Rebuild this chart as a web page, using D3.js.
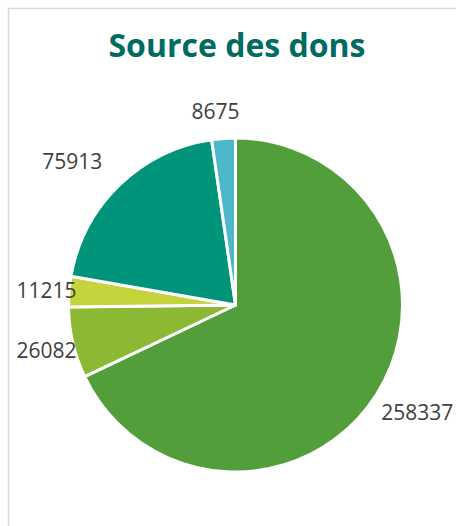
<!DOCTYPE html>
<html>
<head>
<meta charset="utf-8">
<script src="https://cdn.jsdelivr.net/npm/d3@7"></script>
<style>
  html, body { margin: 0; padding: 0; background: #ffffff; }
  svg { display: block; }
</style>
</head>
<body>
<svg id="chart" width="456" height="526"></svg>
<script>
// ---- data ----
const title = "Source des dons";
const categories = ["A", "B", "C", "D", "E"];
const values = [258337, 26082, 11215, 75913, 8675];
const colors = ["#529E3A", "#8CB834", "#C5D33D", "#00957A", "#4CB8C9"];

// ---- layout ----
const W = 456, H = 526;
const cx = 235.5, cy = 305, R = 167;
const labelFactor = [1.266, 1.164, 1.135, 1.302, 1.165];
const labelAngleShift = [-1.6, -0.4, -0.2, -4.5, -1.8]; // degrees

const svg = d3.select("#chart");

// chart frame
svg.append("rect")
  .attr("x", 8.5).attr("y", 8.5)
  .attr("width", W + 20).attr("height", H + 20)
  .attr("fill", "#ffffff")
  .attr("stroke", "#D9D9D9")
  .attr("stroke-width", 1.5);

// title
svg.append("text")
  .attr("x", 237).attr("y", 57)
  .attr("text-anchor", "middle")
  .attr("font-family", "'Open Sans', sans-serif")
  .attr("font-weight", 700)
  .attr("font-size", 32)
  .attr("fill", "#006B5F")
  .text(title);

const pie = d3.pie().sort(null).value(d => d.v).startAngle(0).endAngle(2 * Math.PI);
const data = categories.map((c, i) => ({ c, v: values[i], i }));
const arcs = pie(data);

const arc = d3.arc().innerRadius(0).outerRadius(R);

const g = svg.append("g").attr("transform", `translate(${cx},${cy})`);

g.selectAll("path.slice")
  .data(arcs)
  .join("path")
  .attr("class", "slice")
  .attr("d", arc)
  .attr("fill", d => colors[d.data.i])
  .attr("stroke", "#ffffff")
  .attr("stroke-width", 3)
  .attr("stroke-linejoin", "round");

g.selectAll("text.lbl")
  .data(arcs)
  .join("text")
  .attr("class", "lbl")
  .attr("transform", d => {
    const i = d.data.i;
    const rr = R * labelFactor[i];
    const a = (d.startAngle + d.endAngle) / 2 + labelAngleShift[i] * Math.PI / 180;
    return `translate(${rr * Math.sin(a)},${-rr * Math.cos(a)})`;
  })
  .attr("text-anchor", "middle")
  .attr("dy", "0.36em")
  .attr("font-family", "'Open Sans', sans-serif")
  .attr("font-size", 21)
  .attr("fill", "#404040")
  .text(d => d.data.v);
</script>
</body>
</html>
